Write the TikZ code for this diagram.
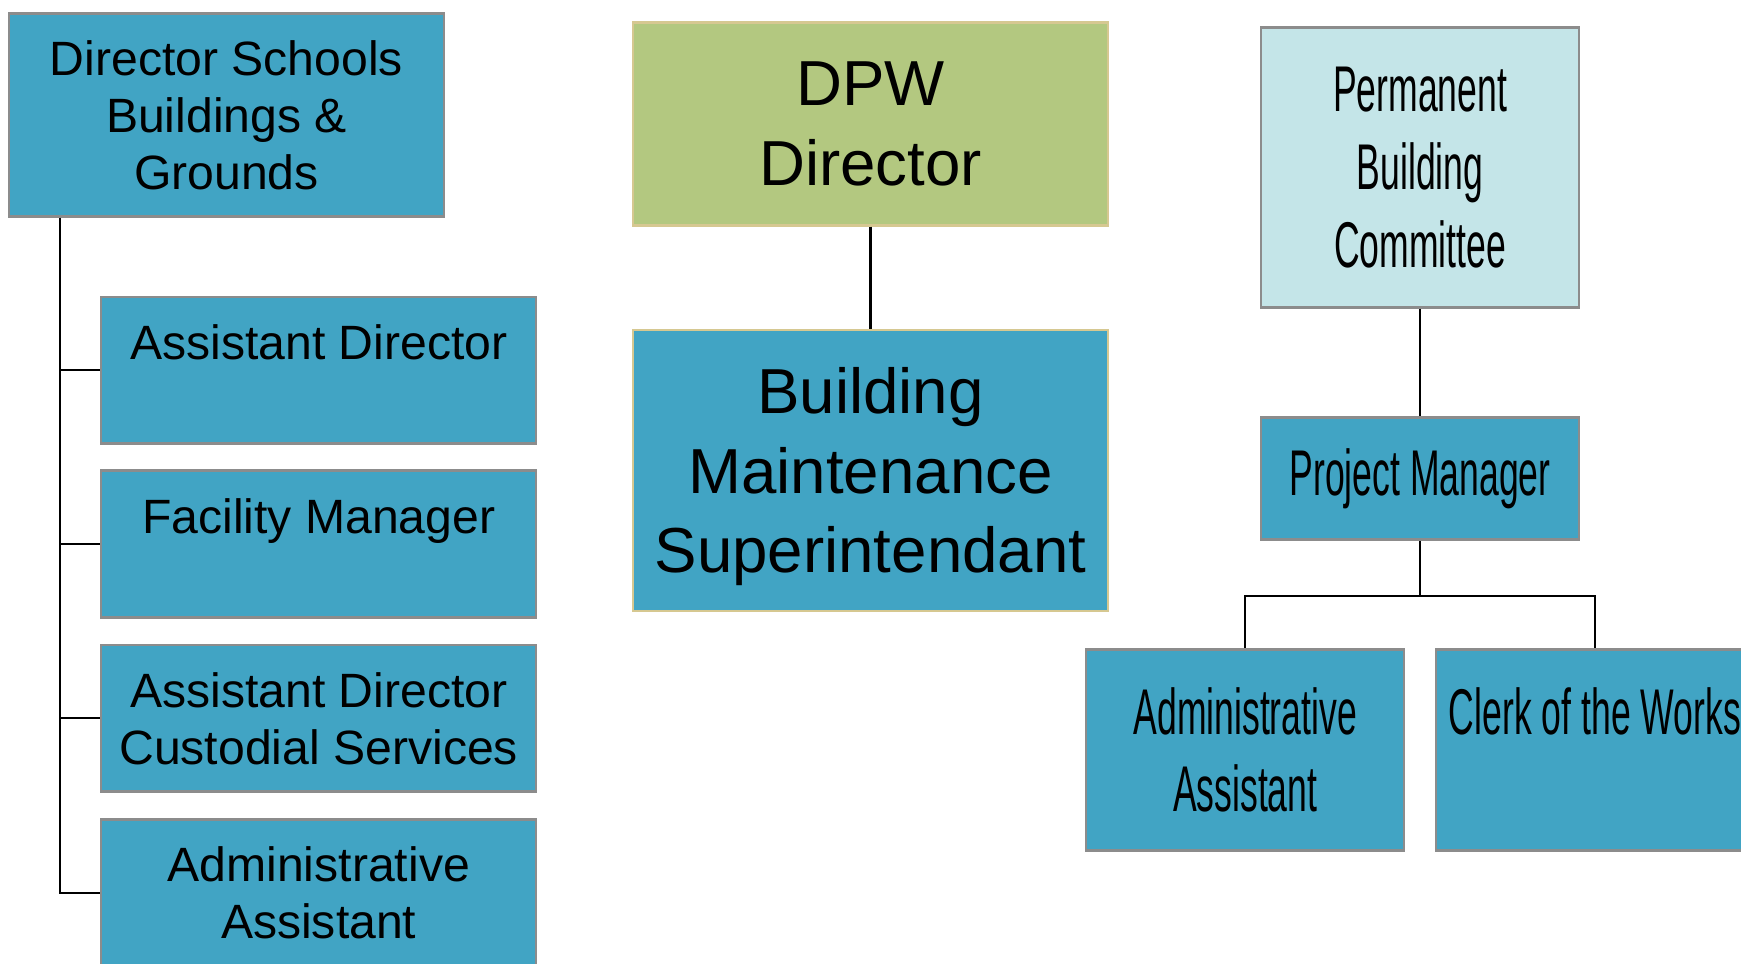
\documentclass[tikz,border=0pt]{standalone}
\usepackage{fontspec}
\setmainfont{Liberation Sans}
\newfontfamily\narrowfont[FakeStretch=0.55]{Liberation Sans}

\definecolor{unitblue}{RGB}{65,164,196}
\definecolor{unitedge}{RGB}{140,140,140}
\definecolor{dpwgreen}{RGB}{179,200,128}
\definecolor{dpwedge}{RGB}{214,200,145}
\definecolor{pbcpale}{RGB}{196,229,232}

\tikzset{
  unit/.style={draw=unitedge, line width=0.7pt, fill=unitblue, align=center, inner sep=0pt},
  school/.style={minimum width=4.35cm, minimum height=1.466cm, font=\fontsize{13.7}{16.2}\selectfont},
  bigtext/.style={minimum width=4.75cm, font=\fontsize{18.1}{22.6}\selectfont},
  narrow/.style={minimum width=3.18cm, font=\narrowfont\fontsize{18.4}{22.1}\selectfont},
  link/.style={draw=black, line width=0.6pt}
}

\begin{document}
\begin{tikzpicture}
  \useasboundingbox (0,0) rectangle (17.41,-9.63);
  % schools side
  \node[unit, school, minimum height=2.03cm] (dir) at (2.265,-1.149) {Director Schools\\Buildings \&\\Grounds};
  \node[unit, school] (ad) at (3.187,-3.703) {Assistant Director\\~};
  \node[unit, school] (fm) at (3.187,-5.440) {Facility Manager\\~};
  \node[unit, school] (cust) at (3.187,-7.183) {Assistant Director\\Custodial Services};
  \node[unit, school] (adm) at (3.187,-8.927) {Administrative\\Assistant};
  % DPW
  \node[unit, bigtext, fill=dpwgreen, draw=dpwedge, minimum height=2.03cm] (dpw) at (8.705,-1.238) {DPW\\Director};
  \node[unit, bigtext, draw=dpwedge, minimum height=2.81cm, text depth=0pt] (bms) at (8.705,-4.703) {Building\\Maintenance\\Superintendant};
  % building committee
  \node[unit, narrow, fill=pbcpale, minimum height=2.8cm] (pbc) at (14.201,-1.677) {Permanent\\Building\\Committee};
  \node[unit, narrow, minimum height=1.22cm] (pm) at (14.201,-4.786) {Project Manager};
  \node[unit, narrow, minimum height=2.01cm] (aa) at (12.452,-7.50) {Administrative\\Assistant};
  \node[unit, narrow, minimum height=2.01cm] (clerk) at (15.949,-7.50) {Clerk of the Works\\~};

  \draw[link] ([xshift=0.522cm]dir.south west) coordinate (spine) |- (adm.west);
  \foreach \n in {ad,fm,cust}
    \draw[link] (spine |- \n.west) -- (\n.west);
  \draw[link] (dpw) -- (bms);
  \draw[link] (pbc) -- (pm);
  \draw[link] (pm.south) -- ++(0,-0.555) coordinate (fork) -| (aa.north);
  \draw[link] (fork) -| (clerk.north);
\end{tikzpicture}
\end{document}
